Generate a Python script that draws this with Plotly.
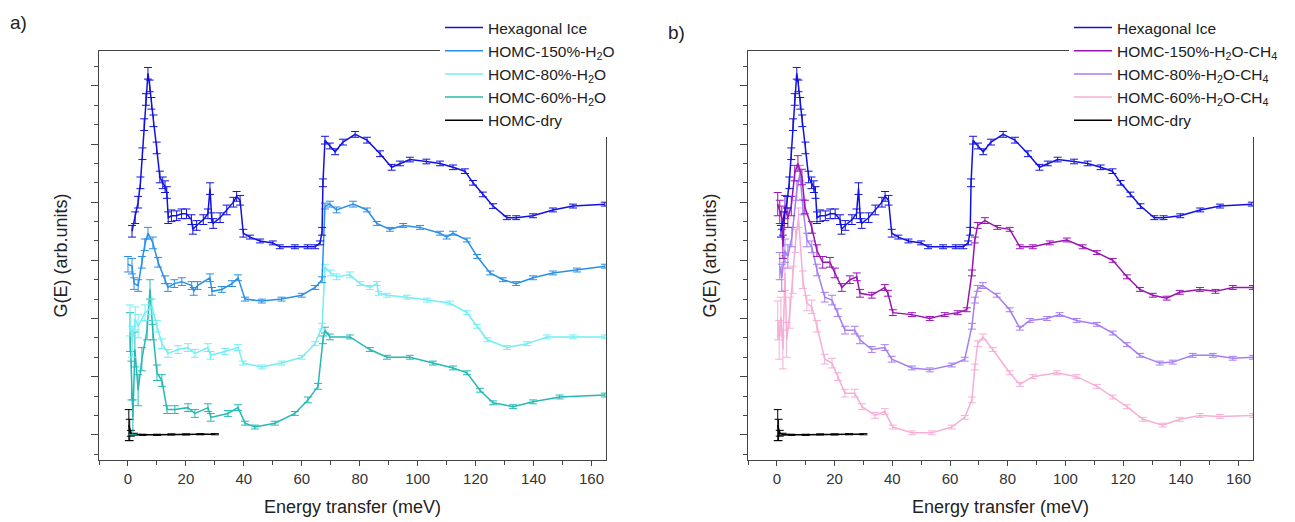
import plotly.graph_objects as go

# ---------------- data ----------------
E_hex = [1.4, 2.5, 3.5, 4.3, 5.0, 5.6, 6.2, 6.9, 7.5, 8.1, 8.8, 9.9, 11.0, 12.0, 12.8, 13.4, 13.9,
         15.0, 16.8, 18.5, 20.2, 21.9, 22.4, 23.7, 26.0, 27.6, 28.3, 28.9, 29.4, 31.8, 34.1, 36.4,
         37.5, 38.7, 39.8, 42.1, 45.6, 50.0, 52.4, 57.6, 62.0, 64.6, 66.3, 67.0, 67.3, 68.0, 69.7,
         71.5, 74.2, 78.4, 82.5, 87.0, 91.0, 93.9, 97.3, 103.0, 107.7, 112.2, 116.3, 119.1, 122.5,
         126.0, 130.8, 134.0, 139.8, 146.7, 153.6, 164.6]
G_hex = [10.5, 11.2, 12.0, 13.0, 14.5, 16.0, 17.3, 18.65, 18.0, 17.1, 16.2, 14.8, 13.3, 13.0, 12.8, 12.5, 11.2,
         11.3, 11.3, 11.4, 11.4, 11.1, 10.6, 10.8, 11.1, 11.4, 12.7, 11.2, 10.9, 11.2, 11.6, 12.0,
         12.3, 12.1, 10.4, 10.2, 10.0, 9.9, 9.7, 9.7, 9.7, 9.7, 9.9, 10.5, 13.0, 15.2, 14.9,
         14.6, 15.1, 15.5, 15.2, 14.5, 13.8, 14.0, 14.2, 14.1, 14.0, 13.8, 13.6, 13.0, 12.4,
         11.8, 11.2, 11.2, 11.3, 11.6, 11.8, 11.9]
e_hex = [0.3, 0.3, 0.3, 0.3, 0.3, 0.3, 0.3, 0.3, 0.3, 0.3, 0.3, 0.3, 0.3, 0.3, 0.3, 0.3, 0.3,
         0.3, 0.25, 0.25, 0.25, 0.25, 0.25, 0.25, 0.25, 0.25, 0.3, 0.25, 0.25, 0.25, 0.25, 0.25,
         0.25, 0.25, 0.2, 0.1, 0.1, 0.1, 0.1, 0.1, 0.1, 0.1, 0.1, 0.2, 0.2, 0.2, 0.15,
         0.15, 0.15, 0.15, 0.15, 0.15, 0.15, 0.12, 0.12, 0.12, 0.12, 0.12, 0.12, 0.12, 0.12,
         0.12, 0.1, 0.1, 0.1, 0.1, 0.1, 0.1]

E_150 = [0.0, 1.4, 2.1, 3.5, 4.8, 5.8, 6.9, 8.6, 10.4, 12.8, 13.8, 16.0, 18.6, 22.0, 22.7, 24.0,
         28.3, 29.0, 32.4, 35.9, 38.0, 40.4, 46.2, 53.0, 60.0, 64.6, 67.0, 68.0, 69.7, 72.0, 77.7,
         82.5, 85.9, 90.4, 95.0, 100.8, 107.7, 110.0, 112.2, 117.0, 120.5, 125.0, 129.4, 134.0,
         139.8, 146.7, 155.0, 164.6]
G_150 = [8.8, 8.7, 7.8, 7.7, 8.9, 9.8, 10.4, 9.9, 8.9, 8.0, 7.6, 7.8, 7.9, 7.7, 7.4, 7.7,
         8.1, 7.4, 7.5, 7.8, 8.1, 7.0, 6.9, 7.0, 7.2, 7.6, 8.0, 11.8, 11.9, 11.6, 11.9,
         11.6, 10.9, 10.6, 10.8, 10.7, 10.4, 10.2, 10.4, 10.05, 9.2, 8.35, 8.0, 7.8,
         8.1, 8.35, 8.5, 8.7]
e_150 = [0.4, 0.4, 0.3, 0.3, 0.3, 0.3, 0.3, 0.3, 0.25, 0.2, 0.2, 0.2, 0.2, 0.2, 0.2, 0.2,
         0.2, 0.2, 0.15, 0.15, 0.15, 0.1, 0.1, 0.1, 0.1, 0.1, 0.15, 0.15, 0.15, 0.15, 0.15,
         0.1, 0.1, 0.1, 0.1, 0.1, 0.1, 0.1, 0.1, 0.1, 0.1, 0.1, 0.1, 0.1,
         0.1, 0.1, 0.1, 0.1]

E_80 = [0.7, 1.5, 2.5, 3.5, 5.9, 8.3, 10.0, 11.7, 13.8, 17.3, 20.7, 23.1, 27.6, 28.5, 33.5, 38.0,
        39.7, 46.2, 53.0, 60.0, 64.6, 67.0, 68.0, 70.0, 72.0, 76.6, 80.1, 83.5, 85.9, 86.5, 89.4,
        96.3, 103.2, 111.0, 117.0, 120.5, 124.0, 130.8, 137.7, 144.6, 153.6, 164.6]
G_80 = [5.9, 4.8, 6.0, 5.6, 6.3, 6.6, 5.6, 4.7, 4.2, 4.4, 4.5, 4.2, 4.5, 4.1, 4.3, 4.5,
        3.7, 3.5, 3.7, 4.0, 4.7, 5.6, 8.65, 8.35, 8.15, 8.25, 7.8, 7.6, 7.8, 7.3, 7.2,
        7.1, 6.95, 6.8, 6.3, 5.6, 4.9, 4.5, 4.7, 5.05, 5.05, 5.05]
e_80 = [0.8, 0.8, 0.6, 0.6, 0.4, 0.4, 0.3, 0.25, 0.2, 0.2, 0.2, 0.2, 0.2, 0.2, 0.15, 0.15,
        0.1, 0.1, 0.1, 0.1, 0.1, 0.15, 0.15, 0.15, 0.15, 0.15, 0.1, 0.1, 0.1, 0.1, 0.1,
        0.1, 0.1, 0.1, 0.1, 0.1, 0.1, 0.1, 0.1, 0.1, 0.1, 0.1]

E_60 = [0.7, 1.2, 1.7, 2.4, 3.5, 4.8, 6.6, 7.6, 8.6, 10.0, 11.7, 13.5, 16.2, 20.7, 23.1, 27.6,
        28.6, 34.5, 38.0, 40.4, 43.8, 50.7, 57.6, 62.1, 65.6, 67.3, 68.0, 69.7, 76.6, 83.5,
        89.4, 97.3, 105.3, 112.2, 117.0, 121.5, 126.0, 132.9, 139.8, 149.0, 164.6]
G_60 = [5.3, 2.8, 0.9, 4.4, 2.3, 3.9, 5.4, 7.5, 5.3, 3.2, 2.8, 1.3, 1.3, 1.4, 1.1, 1.4,
        0.9, 1.1, 1.4, 0.6, 0.4, 0.6, 1.1, 1.8, 2.5, 4.9, 5.4, 5.05, 5.05, 4.4,
        4.0, 4.0, 3.7, 3.45, 3.2, 2.3, 1.65, 1.45, 1.7, 1.95, 2.05]
e_60 = [1.0, 1.0, 0.9, 0.9, 0.8, 0.6, 0.5, 0.5, 0.4, 0.4, 0.3, 0.2, 0.2, 0.2, 0.2, 0.2,
        0.2, 0.15, 0.15, 0.1, 0.1, 0.1, 0.1, 0.15, 0.15, 0.2, 0.15, 0.15, 0.1, 0.1,
        0.1, 0.1, 0.1, 0.1, 0.1, 0.1, 0.1, 0.1, 0.1, 0.1, 0.1]

E_dry = [0.3, 0.6, 1.0, 2.0, 5.0, 10.0, 15.0, 20.0, 25.0, 30.0]
G_dry = [0.5, 0.25, 0.08, 0.03, 0.0, 0.0, 0.02, 0.02, 0.03, 0.03]
e_dry = [0.8, 0.55, 0.15, 0.05, 0.03, 0.03, 0.03, 0.03, 0.03, 0.03]

E_150c = [0.3, 1.0, 1.7, 2.1, 2.8, 3.8, 5.0, 6.2, 7.3, 8.7, 9.7, 12.1, 13.9, 15.9, 18.4, 20.1,
          22.5, 25.3, 27.7, 28.8, 32.9, 37.4, 38.5, 40.2, 46.8, 53.0, 58.2, 62.7, 65.8, 67.6,
          68.6, 69.6, 72.1, 76.4, 80.7, 84.2, 88.7, 94.6, 100.5, 106.0, 110.9, 116.4, 121.3,
          125.8, 130.3, 135.1, 139.6, 146.6, 152.0, 158.0, 165.0]
G_150c = [11.9, 11.5, 11.2, 9.7, 11.75, 11.2, 11.8, 13.5, 14.0, 13.3, 11.75, 10.7, 9.5, 8.9, 8.9, 8.35,
          7.6, 8.0, 8.15, 7.3, 7.2, 7.6, 7.3, 6.3, 6.2, 6.0, 6.2, 6.3, 6.45, 8.35,
          10.05, 10.8, 11.05, 10.7, 10.6, 9.7, 9.7, 9.9, 10.05, 9.7, 9.4, 9.0, 8.15,
          7.5, 7.2, 7.05, 7.35, 7.5, 7.4, 7.6, 7.6]
e_150c = [0.6, 0.6, 0.6, 0.6, 0.6, 0.5, 0.5, 0.4, 0.4, 0.4, 0.35, 0.3, 0.3, 0.3, 0.25, 0.25,
          0.2, 0.2, 0.2, 0.2, 0.15, 0.15, 0.15, 0.15, 0.1, 0.1, 0.1, 0.1, 0.1, 0.15,
          0.15, 0.15, 0.15, 0.1, 0.1, 0.1, 0.1, 0.1, 0.1, 0.1, 0.1, 0.1, 0.1,
          0.1, 0.1, 0.1, 0.1, 0.1, 0.1, 0.1, 0.1]

E_80c = [1.0, 1.7, 2.8, 3.8, 5.2, 6.9, 8.0, 9.0, 10.4, 12.1, 13.9, 16.6, 19.1, 21.1, 23.6, 27.0,
         28.8, 32.9, 37.4, 39.8, 46.8, 53.0, 60.6, 65.1, 67.6, 68.6, 69.6, 71.4, 76.2, 80.7,
         84.2, 87.7, 93.6, 98.0, 103.9, 110.9, 116.4, 121.3, 125.8, 132.7, 137.2, 144.1, 151.1,
         158.0, 165.0]
G_80c = [8.7, 8.1, 9.5, 9.2, 10.2, 12.6, 13.5, 11.75, 10.05, 9.7, 8.5, 7.1, 6.95, 6.3, 5.4, 5.4,
         4.9, 4.4, 4.5, 3.9, 3.45, 3.35, 3.6, 3.9, 5.6, 6.95, 7.55, 7.7, 7.2, 6.45,
         5.5, 5.9, 6.0, 6.2, 5.9, 5.7, 5.25, 4.65, 4.1, 3.7, 3.75, 4.1, 4.1,
         3.95, 4.0]
e_80c = [0.7, 0.7, 0.6, 0.6, 0.5, 0.5, 0.4, 0.4, 0.35, 0.3, 0.3, 0.25, 0.25, 0.2, 0.2, 0.2,
         0.2, 0.15, 0.15, 0.15, 0.1, 0.1, 0.1, 0.1, 0.15, 0.15, 0.15, 0.15, 0.1, 0.1,
         0.1, 0.1, 0.1, 0.1, 0.1, 0.1, 0.1, 0.1, 0.1, 0.1, 0.1, 0.1, 0.1,
         0.1, 0.1]

E_60c = [0.3, 0.8, 1.4, 2.1, 2.8, 3.4, 4.5, 5.5, 6.5, 7.5, 9.0, 10.4, 12.1, 13.9, 16.6, 19.1,
         21.1, 23.6, 27.0, 29.5, 34.0, 37.4, 40.2, 46.8, 53.7, 60.6, 65.1, 67.6, 68.6, 69.6,
         71.4, 74.8, 80.7, 84.2, 88.7, 97.0, 103.9, 110.9, 116.4, 121.3, 126.8, 133.7, 139.6,
         146.6, 153.5, 165.0]
G_60c = [5.9, 4.9, 6.1, 4.4, 8.35, 4.9, 6.3, 8.0, 10.0, 11.2, 8.0, 6.8, 6.6, 5.6, 3.9, 3.7,
         3.0, 2.15, 2.15, 1.45, 1.0, 1.2, 0.4, 0.1, 0.1, 0.4, 0.9, 1.8, 3.5, 4.7,
         5.05, 4.4, 3.2, 2.6, 3.0, 3.2, 3.0, 2.5, 1.95, 1.45, 0.8, 0.5, 0.8,
         1.0, 0.95, 1.0]
e_60c = [1.0, 1.0, 1.0, 1.0, 0.9, 0.9, 0.8, 0.7, 0.6, 0.5, 0.45, 0.4, 0.35, 0.3, 0.25, 0.25,
         0.2, 0.2, 0.2, 0.15, 0.15, 0.15, 0.1, 0.1, 0.1, 0.1, 0.1, 0.15, 0.15, 0.15,
         0.15, 0.1, 0.1, 0.1, 0.1, 0.1, 0.1, 0.1, 0.1, 0.1, 0.1, 0.1, 0.1,
         0.1, 0.1, 0.1]

x_ticks = [0, 20, 40, 60, 80, 100, 120, 140, 160]

names_a = ["Hexagonal Ice", "HOMC-150%-H<sub>2</sub>O", "HOMC-80%-H<sub>2</sub>O",
           "HOMC-60%-H<sub>2</sub>O", "HOMC-dry"]
names_b = ["Hexagonal Ice", "HOMC-150%-H<sub>2</sub>O-CH<sub>4</sub>",
           "HOMC-80%-H<sub>2</sub>O-CH<sub>4</sub>", "HOMC-60%-H<sub>2</sub>O-CH<sub>4</sub>", "HOMC-dry"]

# ---------------- styles ----------------
col_hex = "#1212e0"
cols_a = [col_hex, "#2a8fe8", "#72eef4", "#24bab4", "#000000"]
cols_b = [col_hex, "#9a14b4", "#a67ef2", "#f5afd6", "#000000"]
FONT = "Liberation Sans, Arial, sans-serif"

fig = go.Figure()

series_a = [(E_hex, G_hex, e_hex), (E_150, G_150, e_150), (E_80, G_80, e_80),
            (E_60, G_60, e_60), (E_dry, G_dry, e_dry)]
series_b = [(E_hex, G_hex, e_hex), (E_150c, G_150c, e_150c), (E_80c, G_80c, e_80c),
            (E_60c, G_60c, e_60c), (E_dry, G_dry, e_dry)]

for i in reversed(range(5)):
    x, y, e = series_a[i]
    fig.add_trace(go.Scatter(x=x, y=y, mode="lines", name=names_a[i], xaxis="x", yaxis="y",
                             line=dict(color=cols_a[i], width=1.5), legend="legend",
                             legendrank=i + 1,
                             error_y=dict(type="data", array=e, color=cols_a[i], thickness=1, width=4)))
for i in reversed(range(5)):
    x, y, e = series_b[i]
    fig.add_trace(go.Scatter(x=x, y=y, mode="lines", name=names_b[i], xaxis="x2", yaxis="y2",
                             line=dict(color=cols_b[i], width=1.5), legend="legend2",
                             legendrank=i + 1,
                             error_y=dict(type="data", array=e, color=cols_b[i], thickness=1, width=4)))

W, H = 1295, 522
ML, MR, MT, MB = 99, 42, 51, 62
PW, PH = W - ML - MR, H - MT - MB


def px(xp):
    return (xp - ML) / PW


def py(yp):
    return (H - MB - yp) / PH


xdom_a = [0, (606 - ML) / PW]
xdom_b = [(748 - ML) / PW, 1]

axis_common = dict(showline=True, linecolor="#444444", linewidth=1.3, mirror=True, automargin=False,
                   showgrid=False, zeroline=False, ticks="outside", tickcolor="#444444")

xa = dict(axis_common, range=[-10, 165], tickvals=x_ticks, ticklen=5, tickwidth=1.3,
          minor=dict(dtick=10, tick0=0, ticklen=4, ticks="outside", tickcolor="#444444", tickwidth=1.3),
          tickfont=dict(family=FONT, size=15, color="#333333"),
          title=dict(text="Energy transfer (meV)", font=dict(family=FONT, size=18, color="#222222"),
                     standoff=14))
ya = dict(axis_common, range=[-1.3, 19.8], tick0=0, dtick=3, ticklen=7, tickwidth=1.3,
          showticklabels=False,
          minor=dict(dtick=1, tick0=0, ticklen=4, ticks="outside", tickcolor="#444444", tickwidth=1.3),
          title=dict(text="G(E) (arb.units)", font=dict(family=FONT, size=18, color="#222222"),
                     standoff=18))

leg_common = dict(bgcolor="white", borderwidth=0, font=dict(family=FONT, size=15.5, color="#222222"),
                  xanchor="left", yanchor="top", tracegroupgap=0, traceorder="normal", itemwidth=38)

fig.update_layout(
    width=W, height=H, margin=dict(l=ML, r=MR, t=MT, b=MB, autoexpand=False),
    paper_bgcolor="white", plot_bgcolor="white", showlegend=True,
    xaxis=dict(xa, domain=xdom_a, anchor="y"),
    yaxis=dict(ya, domain=[0, 1], anchor="x"),
    xaxis2=dict(xa, domain=xdom_b, anchor="y2"),
    yaxis2=dict(ya, domain=[0, 1], anchor="x2"),
    legend=dict(leg_common, x=px(440), y=py(11)),
    legend2=dict(leg_common, x=px(1069), y=py(11)),
    annotations=[
        dict(text="a)", x=px(8), y=py(22), xref="paper", yref="paper", showarrow=False,
             xanchor="left", yanchor="middle", font=dict(family=FONT, size=19, color="#222222")),
        dict(text="b)", x=px(666), y=py(33), xref="paper", yref="paper", showarrow=False,
             xanchor="left", yanchor="middle", font=dict(family=FONT, size=19, color="#222222")),
    ],
)

# remove the browser's default 8px page margin so the figure sits at the window origin
fig.write_html("out.html", config={"displayModeBar": False},
               post_script="document.body.style.margin='0px';")
